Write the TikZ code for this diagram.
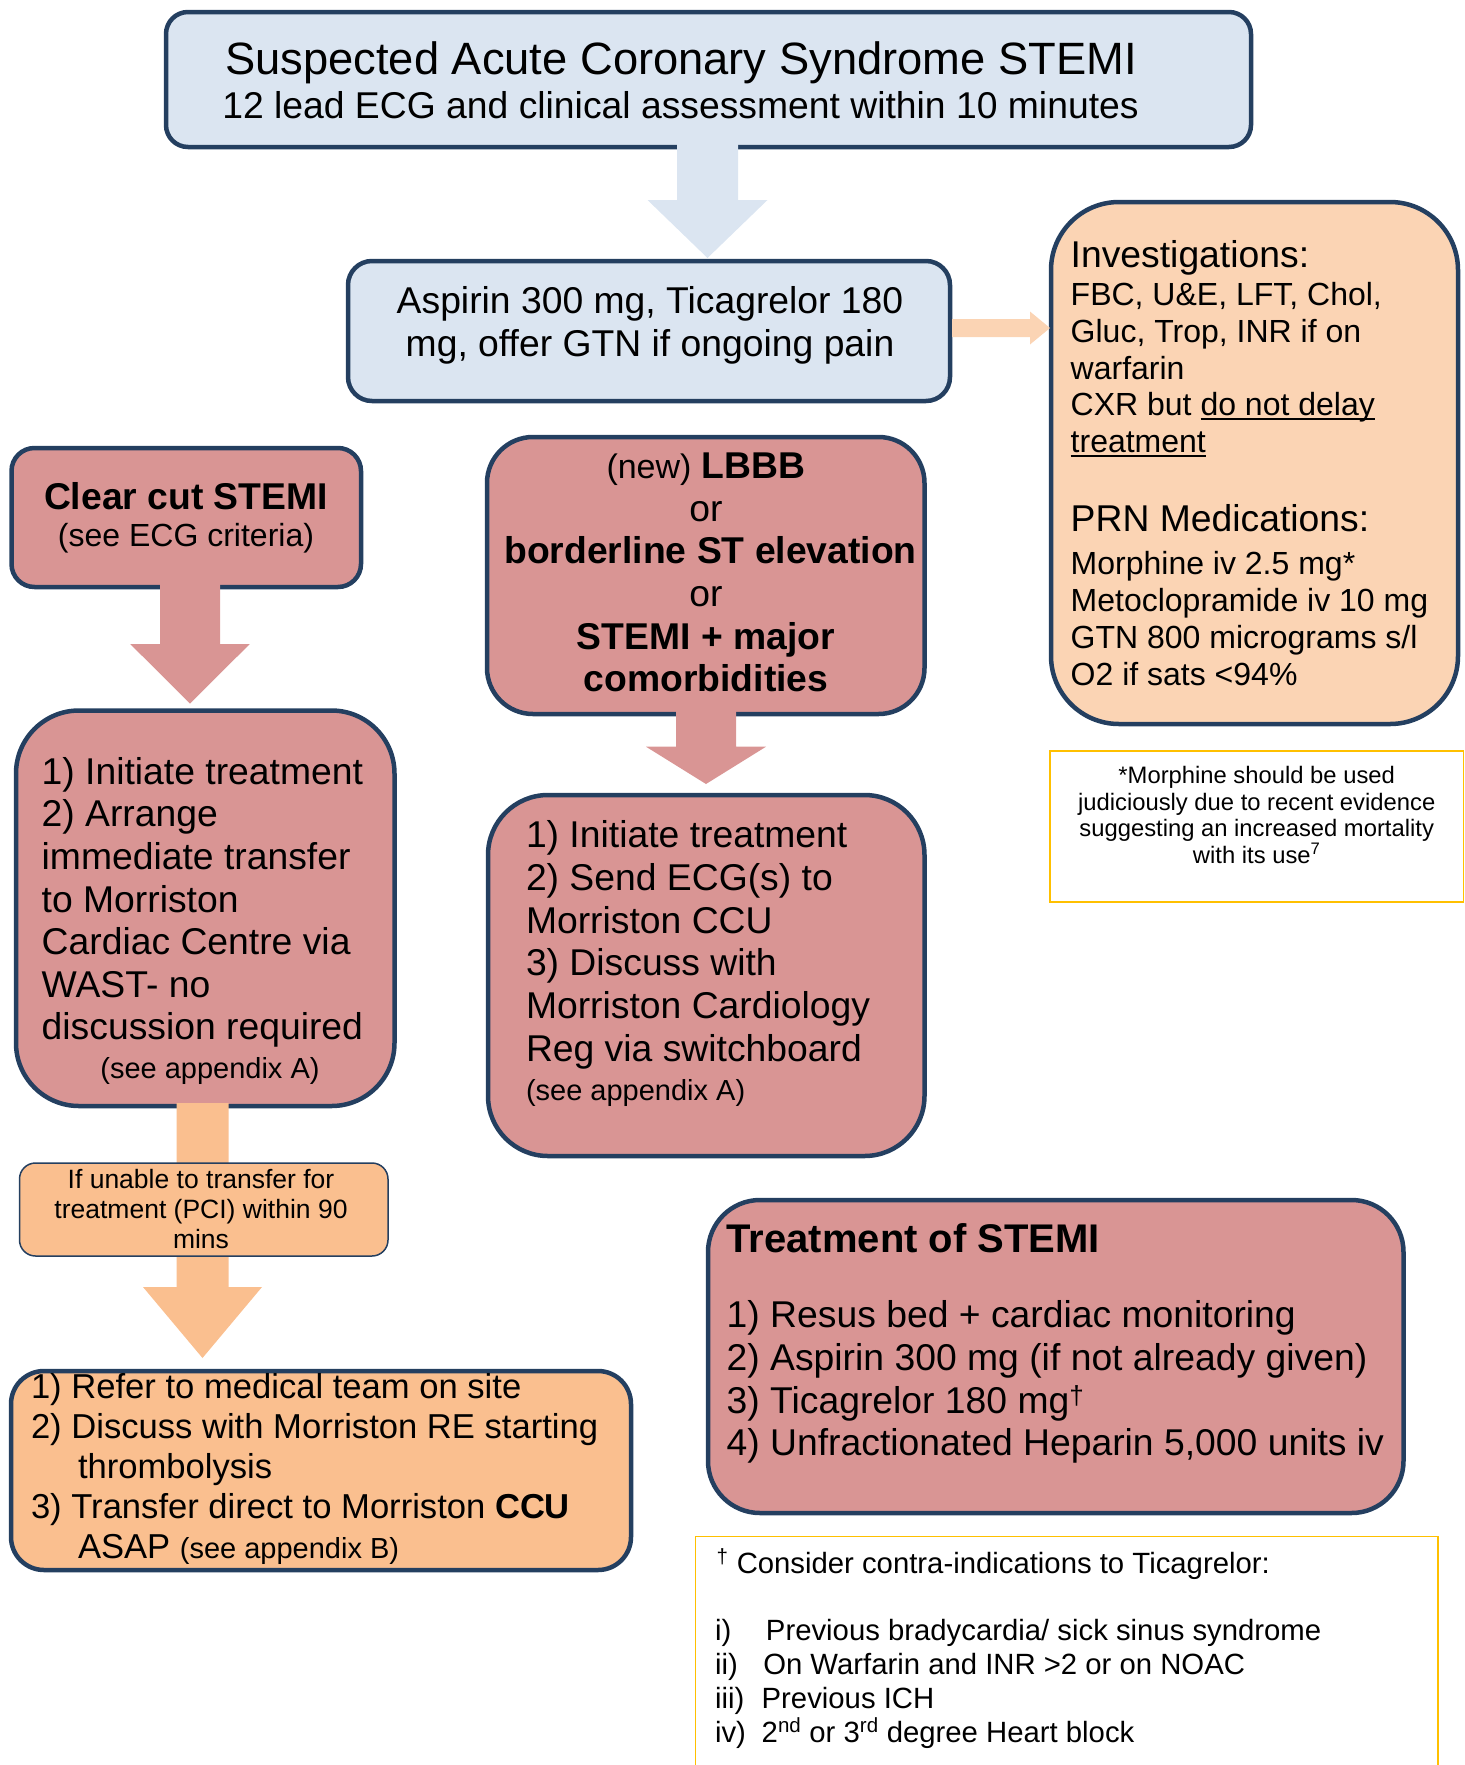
\documentclass[tikz,border=0pt]{standalone}
\usepackage{fontspec}
\setmainfont{Liberation Sans}
\usetikzlibrary{calc}
\setlength{\lineskiplimit}{-1000pt}
\definecolor{navy}{HTML}{243F60}
\definecolor{lblue}{HTML}{DBE5F1}
\definecolor{pinkf}{HTML}{D99594}
\definecolor{peach}{HTML}{FBD4B4}
\definecolor{orangef}{HTML}{FABF8F}
\definecolor{gold}{HTML}{FFC000}
\newcommand{\fsz}[2]{\fontsize{#1pt}{#2pt}\selectfont}
\newcommand{\myul}[1]{\leavevmode\setbox0\hbox{#1}\rlap{\rule[-4.3pt]{\wd0}{2.1pt}}\box0}
\newcommand{\blockdown}[6]{%
  \fill[#1] ($(#2)+(-#4,-3)$) -- ($(#2)+(#4,-3)$) -- ($(#3)+(#4,-#6)$) -- ($(#3)+(#5,-#6)$) -- (#3) -- ($(#3)+(-#5,-#6)$) -- ($(#3)+(-#4,-#6)$) -- cycle;}
\pgfdeclarelayer{front}
\pgfsetlayers{main,front}
\begin{document}
\begin{tikzpicture}[x=1pt,y=-1pt,
  box/.style={rectangle, draw=navy, line width=4.5pt, inner sep=0pt, outer sep=0pt},
  thinbox/.style={rectangle, draw=navy, line width=1.5pt, inner sep=0pt, outer sep=0pt},
  notebox/.style={rectangle, draw=gold, line width=1.5pt, inner sep=0pt, outer sep=0pt},
  tl/.style={anchor=base west, inner sep=0pt, outer sep=0pt},
  tc/.style={anchor=base, inner sep=0pt, outer sep=0pt}]
\useasboundingbox (0,0) rectangle (1465,1765);

% boxes
\node[box, fill=lblue, rounded corners=22pt, minimum width=1085pt, minimum height=135pt] (top) at (708.5,79.5) {};
\node[box, fill=lblue, rounded corners=24pt, minimum width=602pt, minimum height=140pt] (asp) at (649,331) {};
\node[box, fill=peach, rounded corners=68pt, minimum width=407pt, minimum height=522pt] (inv) at (1254.5,463) {};
\node[notebox, minimum width=413.5pt, minimum height=151pt] (note) at (1256.75,826.5) {};
\node[box, fill=pinkf, rounded corners=23pt, minimum width=349.5pt, minimum height=139pt] (clear) at (186.25,517.5) {};
\node[box, fill=pinkf, rounded corners=63pt, minimum width=378.5pt, minimum height=395.5pt] (left) at (205.25,908.25) {};
\node[box, fill=orangef, rounded corners=33pt, minimum width=620pt, minimum height=199pt] (bot) at (321,1470.5) {};
\node[box, fill=pinkf, rounded corners=46pt, minimum width=437.5pt, minimum height=277pt] (lbbb) at (705.75,575.5) {};
\node[box, fill=pinkf, rounded corners=60pt, minimum width=436.5pt, minimum height=361pt] (sec) at (706.25,975.5) {};
\node[box, fill=pinkf, rounded corners=52pt, minimum width=695.5pt, minimum height=313pt] (treat) at (1055.75,1356.5) {};
\node[notebox, minimum width=742.5pt, minimum height=253.5pt] (contra) at (1066.75,1663.25) {};
\begin{pgfonlayer}{front}
\node[thinbox, fill=orangef, rounded corners=16pt, minimum width=368.5pt, minimum height=93pt] (ifbox) at (203.75,1209.5) {};
\node[tc] (tF) at (201,1188.3) {\parbox[t]{360pt}{\centering\fsz{26.5}{30}If unable to transfer for\\treatment (PCI) within 90\\mins}};
\end{pgfonlayer}

% block arrows
\coordinate (xa) at (707.5,0);
\coordinate (xb) at (190,0);
\coordinate (xc) at (706,0);
\coordinate (xd) at (202.5,0);
\coordinate (yr) at (0,328);
\coordinate (a1s) at (top.south -| xa);
\coordinate (a1t) at ($(asp.north -| xa)+(0,-3)$);
\coordinate (a2s) at (clear.south -| xb);
\coordinate (a2t) at ($(left.north -| xb)+(0,-7)$);
\coordinate (a3s) at (lbbb.south -| xc);
\coordinate (a3t) at ($(sec.north -| xc)+(0,-11)$);
\coordinate (a4s) at (left.south -| xd);
\coordinate (a4t) at ($(bot.north -| xd)+(0,-13)$);
\blockdown{lblue}{a1s}{a1t}{30.5}{60}{58}
\blockdown{pinkf}{a2s}{a2t}{30}{59.6}{59.3}
\blockdown{pinkf}{a3s}{a3t}{30}{60}{37.3}
\blockdown{orangef}{a4s}{a4t}{26}{59.5}{71}
\coordinate (a5s) at (asp.east |- yr);
\coordinate (a5t) at ($(inv.west |- yr)+(-1,0)$);
\fill[peach] ($(a5s)+(2,-9)$) -- ($(a5t)+(-20,-9)$) -- ($(a5t)+(-20,-16.5)$) -- (a5t) -- ($(a5t)+(-20,16.5)$) -- ($(a5t)+(-20,9)$) -- ($(a5s)+(2,9)$) -- cycle;

% texts
\node[tc] (tT1) at (681,74) {\fsz{45.3}{50}Suspected Acute Coronary Syndrome STEMI};
\node[tc] (tT2) at (680.5,118.3) {\fsz{37.3}{43}12 lead ECG and clinical assessment within 10 minutes};
\node[tc] (tA) at (650,313.3) {\parbox[t]{600pt}{\centering\fsz{37.3}{43.4}Aspirin 300 mg, Ticagrelor 180\\mg, offer GTN if ongoing pain}};

\node[tl] (tI1) at (1070.7,267.5) {\fsz{37.3}{44}Investigations:};
\node[tl] (tI2) at (1070.7,305.5) {\parbox[t]{380pt}{\raggedright\fsz{32}{36.8}FBC, U\&E, LFT, Chol,\\Gluc, Trop, INR if on\\warfarin\\CXR but \myul{do not delay}\\\myul{treatment}}};
\node[tl] (tI3) at (1070.7,531) {\fsz{37.3}{43}PRN Medications:};
\node[tl] (tI4) at (1070.7,574) {\parbox[t]{380pt}{\raggedright\fsz{32}{37.2}Morphine iv 2.5 mg*\\Metoclopramide iv 10 mg\\GTN 800 micrograms s/l\\O2 if sats <94\%}};

\node[tc] (tN) at (1256.7,783.3) {\parbox[t]{400pt}{\centering\fsz{23.8}{26.7}*Morphine should be used\\judiciously due to recent evidence\\suggesting an increased mortality\\with its use\textsuperscript{7}}};

\node[tc] (tC1) at (186,509.3) {\fsz{37.3}{43}\bfseries Clear cut STEMI};
\node[tc] (tC2) at (186,546) {\fsz{32}{36}(see ECG criteria)};

\node[tl] (tL) at (41.7,784.3) {\parbox[t]{360pt}{\raggedright\fsz{37.3}{42.6}1) Initiate treatment\\2) Arrange\\immediate transfer\\to Morriston\\Cardiac Centre via\\WAST- no\\discussion required}};
\node[tc] (tL2) at (210,1078) {\fsz{29}{33}(see appendix A)};

\node[tl] (tB) at (31,1398.3) {\parbox[t]{600pt}{\raggedright\fsz{34.6}{40}1) Refer to medical team on site\\2) Discuss with Morriston RE starting\\\hspace*{47pt}thrombolysis\\3) Transfer direct to Morriston \textbf{CCU}\\\hspace*{47pt}ASAP {\fsz{29}{40}(see appendix B)}}};

\node[tc] (tLB) at (706,478.3) {\parbox[t]{440pt}{\centering\fsz{37.3}{42.7}{\fsz{34}{42.7}(new)} \textbf{LBBB}\\or\\\hspace*{9pt}\textbf{borderline ST elevation}\\or\\\textbf{STEMI + major}\\\textbf{comorbidities}}};

\node[tl] (tS) at (526,847.5) {\parbox[t]{395pt}{\raggedright\fsz{37.3}{42.75}1) Initiate treatment\\2) Send ECG(s) to\\Morriston CCU\\3) Discuss with\\Morriston Cardiology\\Reg via switchboard}};
\node[tl] (tS2) at (526,1100) {\fsz{29}{33}(see appendix A)};

\node[tl] (tR1) at (726.7,1252.3) {\fsz{40}{46}\bfseries Treatment of STEMI};
\node[tl] (tR2) at (726.7,1327.5) {\parbox[t]{675pt}{\raggedright\fsz{37.3}{42.8}1) Resus bed + cardiac monitoring\\2) Aspirin 300 mg (if not already given)\\3) Ticagrelor 180 mg\textsuperscript{\textdagger}\\4) Unfractionated Heparin 5,000 units iv}};

\node[tl] (tK1) at (716.7,1573) {\fsz{29.3}{34}\textsuperscript{\textdagger} Consider contra-indications to Ticagrelor:};
\node[tl] (tK2) at (715,1640.3) {\parbox[t]{700pt}{\raggedright\fsz{29.3}{33.9}\makebox[51pt][l]{i)}Previous bradycardia/ sick sinus syndrome\\\makebox[48.3pt][l]{ii)}On Warfarin and INR >2 or on NOAC\\\makebox[46.7pt][l]{iii)}Previous ICH\\\makebox[46.7pt][l]{iv)}2\textsuperscript{nd} or 3\textsuperscript{rd} degree Heart block}};
\end{tikzpicture}
\end{document}
